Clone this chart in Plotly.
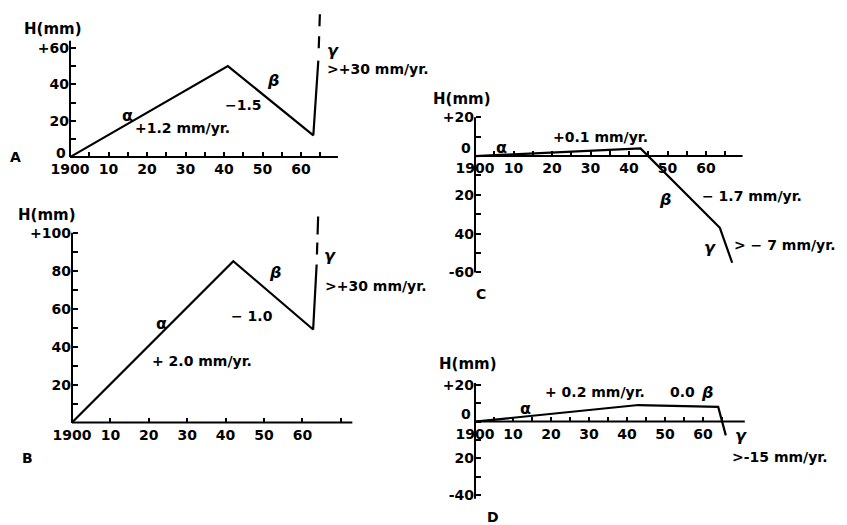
import plotly.graph_objects as go

W, H = 847, 525

# ---------------- data ----------------
A_years = [1900, 1941, 1963.2, 1964.5]
A_h = [0, 50, 12, 53]
A_gamma_years = [1964.9, 1964.5]
A_gamma_h = [78.5, 53]

B_years = [1900, 1942, 1962.8, 1963.7]
B_h = [0, 85, 49, 83]
B_gamma_years = [1964.1, 1963.7]
B_gamma_h = [108.5, 83]

C_years = [1900, 1943, 1963.6, 1966.8]
C_h = [0, 4, -37, -55]

D_years = [1900, 1943, 1964, 1966]
D_h = [0, 9, 8, -7.5]

A_xtick_vals = list(range(1900, 1966, 5))
A_xtick_text = ["1900", "", "10", "", "20", "", "30", "", "40", "", "50", "", "60", ""]
A_ytick_vals = [0, 10, 20, 30, 40, 50, 60]
A_ytick_text = ["", "", "20", "", "40", "", "+60"]

B_xtick_vals = list(range(1900, 1971, 10))
B_xtick_text = ["1900", "10", "20", "30", "40", "50", "60", ""]
B_ytick_vals = [10, 20, 30, 40, 50, 60, 70, 80, 90, 100]
B_ytick_text = ["", "20", "", "40", "", "60", "", "80", "", "+100"]

C_xtick_vals = list(range(1900, 1966, 5))
C_xtick_text = ["1900", "", "10", "", "20", "", "30", "", "40", "", "50", "", "60", ""]
C_ytick_vals = [-60, -50, -40, -30, -20, -10, 0, 10, 20]
C_ytick_text = ["-60", "", "40", "", "20", "", "", "", "+20"]

D_xtick_vals = list(range(1900, 1966, 5))
D_xtick_text = ["1900", "", "10", "", "20", "", "30", "", "40", "", "50", "", "60", ""]
D_ytick_vals = [-40, -30, -20, -10, 0, 10, 20]
D_ytick_text = ["-40", "", "20", "", "", "", "+20"]

ZERO_LABEL = "0"

# ---------------- layout helpers ----------------
FONT = dict(family="DejaVu Sans", size=14, color="black", weight="bold")

panels = [
    # origin px (1900, 0), px/yr, px/mm, x range, y range, axis extents
    dict(ox=70, oy=157, sx=3.85, sy=1.83, xr=[1895, 1972], yr=[-5, 82],
         xaxis_end=1969.6, yaxis_ext=[0, 64], zero_shift=4),
    dict(ox=72, oy=424, sx=3.84, sy=1.91, xr=[1895, 1975], yr=[-5, 112],
         xaxis_end=1973, yaxis_ext=[0, 100], zero_shift=None),
    dict(ox=475, oy=156, sx=3.85, sy=1.95, xr=[1895, 1972], yr=[-63, 24],
         xaxis_end=1969.5, yaxis_ext=[-60, 20], zero_shift=8),
    dict(ox=475, oy=423, sx=3.8, sy=1.85, xr=[1895, 1973], yr=[-45, 24],
         xaxis_end=1971, yaxis_ext=[-42, 21], zero_shift=8),
]
ticks = [
    (A_xtick_vals, A_xtick_text, A_ytick_vals, A_ytick_text),
    (B_xtick_vals, B_xtick_text, B_ytick_vals, B_ytick_text),
    (C_xtick_vals, C_xtick_text, C_ytick_vals, C_ytick_text),
    (D_xtick_vals, D_xtick_text, D_ytick_vals, D_ytick_text),
]

fig = go.Figure()
layout = {}
shapes = []
ann = []
for i, (p, t) in enumerate(zip(panels, ticks), start=1):
    sfx = "" if i == 1 else str(i)
    x0 = (p["ox"] + (p["xr"][0] - 1900) * p["sx"]) / W
    x1 = (p["ox"] + (p["xr"][1] - 1900) * p["sx"]) / W
    y0 = 1 - (p["oy"] - p["yr"][0] * p["sy"]) / H
    y1 = 1 - (p["oy"] - p["yr"][1] * p["sy"]) / H
    layout["xaxis" + sfx] = dict(
        domain=[x0, x1], range=p["xr"], anchor="free", position=1 - p["oy"] / H,
        showline=False, showgrid=False, zeroline=False,
        ticks="inside", ticklen=5, tickwidth=1.5, tickcolor="black",
        tickvals=t[0], ticktext=t[1], tickfont=FONT, ticklabelstandoff=2,
    )
    layout["yaxis" + sfx] = dict(
        domain=[y0, y1], range=p["yr"], anchor="free", position=p["ox"] / W,
        showline=False, showgrid=False, zeroline=False,
        ticks="inside", ticklen=5, tickwidth=1.5, tickcolor="black",
        tickvals=t[2], ticktext=t[3], tickfont=FONT, ticklabelstandoff=1,
    )
    xr_ = "x" + sfx
    yr_ = "y" + sfx
    shapes.append(dict(type="line", xref=xr_, yref=yr_, x0=1900, x1=p["xaxis_end"],
                       y0=0, y1=0, line=dict(color="black", width=2)))
    shapes.append(dict(type="line", xref=xr_, yref=yr_, x0=1900, x1=1900,
                       y0=p["yaxis_ext"][0], y1=p["yaxis_ext"][1],
                       line=dict(color="black", width=2)))
    if p["zero_shift"] is not None:
        ann.append(dict(text=ZERO_LABEL, x=1900, y=0, xref=xr_, yref=yr_,
                        showarrow=False, xanchor="right", yanchor="middle",
                        xshift=-2, yshift=p["zero_shift"], font=FONT))

LINE = dict(color="black", width=2.2)
fig.add_trace(go.Scatter(x=A_years, y=A_h, mode="lines", line=LINE, xaxis="x", yaxis="y"))
fig.add_trace(go.Scatter(x=A_gamma_years, y=A_gamma_h, mode="lines",
                         line=dict(color="black", width=2.2, dash="12px,10px,12px,13px"),
                         xaxis="x", yaxis="y"))
fig.add_trace(go.Scatter(x=B_years, y=B_h, mode="lines", line=LINE, xaxis="x2", yaxis="y2"))
fig.add_trace(go.Scatter(x=B_gamma_years, y=B_gamma_h, mode="lines",
                         line=dict(color="black", width=2.2, dash="18px,8px,12px,10px"),
                         xaxis="x2", yaxis="y2"))
fig.add_trace(go.Scatter(x=C_years, y=C_h, mode="lines", line=LINE, xaxis="x3", yaxis="y3"))
fig.add_trace(go.Scatter(x=D_years, y=D_h, mode="lines", line=LINE, xaxis="x4", yaxis="y4"))


def txt(text, x, y, xref, yref, xanchor="center", size=14):
    f = dict(FONT)
    f["size"] = size
    ann.append(dict(text=text, x=x, y=y, xref=xref, yref=yref, showarrow=False,
                    xanchor=xanchor, yanchor="middle", font=f))


def ptxt(text, px, py, xanchor="center", size=14):
    txt(text, px / W, 1 - py / H, "paper", "paper", xanchor, size)


# panel A
ptxt("H(mm)", 53, 28, size=15)
ptxt("A", 15, 157)
txt("α", 1915, 23, "x", "y", size=16)
txt("+1.2 mm/yr.", 1916.4, 16, "x", "y", "left")
txt("−1.5", 1945, 28.4, "x", "y")
txt("<i>β</i>", 1952.7, 42, "x", "y", size=16)
txt("<i>γ</i>", 1968.3, 58.5, "x", "y", size=16)
txt(">+30 mm/yr.", 1966.2, 48.6, "x", "y", "left")
# panel B
ptxt("H(mm)", 47, 215, size=15)
ptxt("B", 27, 460)
txt("α", 1923.4, 52, "x2", "y2", size=16)
txt("+ 2.0 mm/yr.", 1920.3, 32.5, "x2", "y2", "left")
txt("− 1.0", 1947, 56, "x2", "y2")
txt("<i>β</i>", 1952.9, 79, "x2", "y2", size=16)
txt("<i>γ</i>", 1967.2, 88, "x2", "y2", size=16)
txt(">+30 mm/yr.", 1965.4, 71.7, "x2", "y2", "left")
# panel C
ptxt("H(mm)", 462, 99, size=15)
ptxt("C", 481, 295)
txt("α", 1907, 4.5, "x3", "y3", size=16)
txt("+0.1 mm/yr.", 1932.7, 9.7, "x3", "y3")
txt("<i>β</i>", 1949.4, -22.6, "x3", "y3", size=16)
txt("− 1.7 mm/yr.", 1958.4, -20.5, "x3", "y3", "left")
txt("<i>γ</i>", 1961, -47, "x3", "y3", size=16)
txt("> − 7 mm/yr.", 1966.8, -46, "x3", "y3", "left")
# panel D
ptxt("H(mm)", 468, 365, size=15)
ptxt("D", 493, 519)
txt("α", 1913.4, 7, "x4", "y4", size=16)
txt("+ 0.2 mm/yr.", 1917.9, 16.2, "x4", "y4", "left")
txt("0.0", 1954.7, 16.2, "x4", "y4")
txt("<i>β</i>", 1961, 16, "x4", "y4", size=16)
txt("<i>γ</i>", 1970, -7.6, "x4", "y4", size=16)
txt(">-15 mm/yr.", 1967, -19, "x4", "y4", "left")

fig.update_layout(
    width=W, height=H, margin=dict(l=0, r=0, t=0, b=0),
    paper_bgcolor="white", plot_bgcolor="rgba(0,0,0,0)",
    showlegend=False, shapes=shapes, annotations=ann, **layout,
)
fig.write_html("out.html")
